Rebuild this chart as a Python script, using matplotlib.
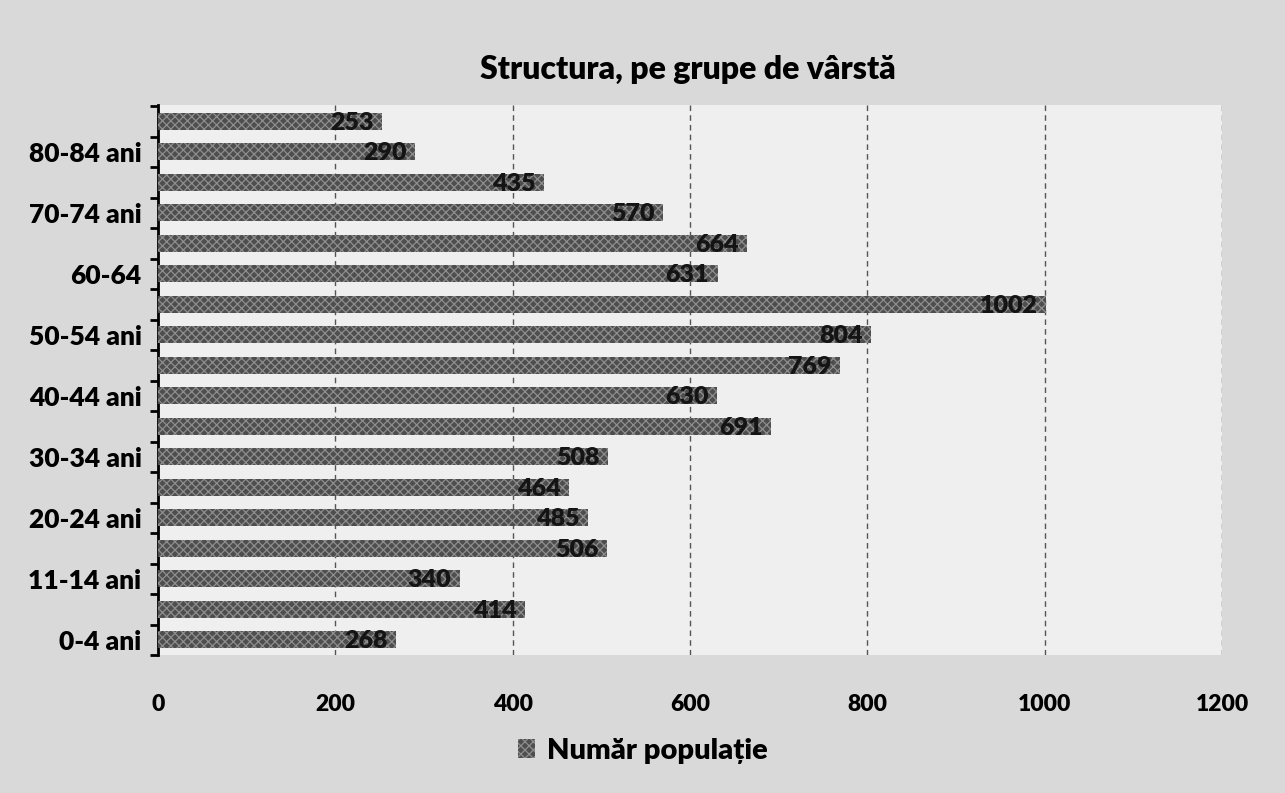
import matplotlib.pyplot as plt

# age groups from the bottom bar to the top bar
groups = ["0-4 ani", "5-10 ani", "11-14 ani", "15-19 ani", "20-24 ani", "25-29 ani",
          "30-34 ani", "35-39 ani", "40-44 ani", "45-49 ani", "50-54 ani", "55-59 ani",
          "60-64", "65-69 ani", "70-74 ani", "75-79 ani", "80-84 ani", "85+ ani"]
population = [268, 414, 340, 506, 485, 464, 508, 691, 630, 769, 804, 1002,
              631, 664, 570, 435, 290, 253]
x_ticks = [0, 200, 400, 600, 800, 1000, 1200]

plt.rcParams["font.family"] = ["Lato", "DejaVu Sans"]
plt.rcParams["font.weight"] = "bold"
plt.rcParams["hatch.linewidth"] = 0.9

fig = plt.figure(figsize=(12.85, 7.93), dpi=100, facecolor="#d9d9d9")
ax = fig.add_axes([0.123, 0.174, 0.828, 0.694])
ax.set_facecolor("#efefef")

pos = list(range(len(groups)))
bars = ax.barh(pos, population, height=0.56, color="#4e4e4e", hatch="xxxx",
               edgecolor="#8e8e8e", linewidth=0, label="Număr populație", zorder=3)

for b, v in zip(bars, population):
    ax.annotate(str(v), (v, b.get_y() + b.get_height() / 2), xytext=(-6, -1),
                textcoords="offset points", ha="right", va="center",
                fontsize=18, fontweight="heavy", color="#141414", zorder=4)

ax.set_xlim(0, 1200)
ax.set_ylim(-0.47, 17.55)
ax.set_xticks(x_ticks)
ax.set_xticklabels([str(t) for t in x_ticks], fontsize=16.5, fontweight="heavy")
ax.tick_params(axis="x", length=0, pad=28)

ax.set_yticks(pos)
ax.set_yticklabels([g if i % 2 == 0 else "" for i, g in enumerate(groups)],
                   fontsize=19, fontweight="heavy")
ax.tick_params(axis="y", which="major", length=0, pad=12)
ax.set_yticks([p - 0.5 for p in pos] + [pos[-1] + 0.5], minor=True)
ax.tick_params(axis="y", which="minor", length=6, width=2, color="black")

ax.xaxis.grid(True, linestyle=(0, (4, 3)), color="#555555", linewidth=1, zorder=0)
for s in ["top", "right", "bottom"]:
    ax.spines[s].set_visible(False)
ax.spines["left"].set_linewidth(2)

fig.text(0.535, 0.913, "Structura, pe grupe de vârstă", ha="center", va="center",
         fontsize=23, fontweight="heavy")

fig.legend(handles=[bars], loc="center", bbox_to_anchor=(0.5, 0.053), frameon=False,
           prop={"weight": "heavy", "size": 21}, handlelength=0.6,
           handleheight=0.6, handletextpad=0.4)

fig.savefig("out.png", dpi=100, facecolor=fig.get_facecolor())
